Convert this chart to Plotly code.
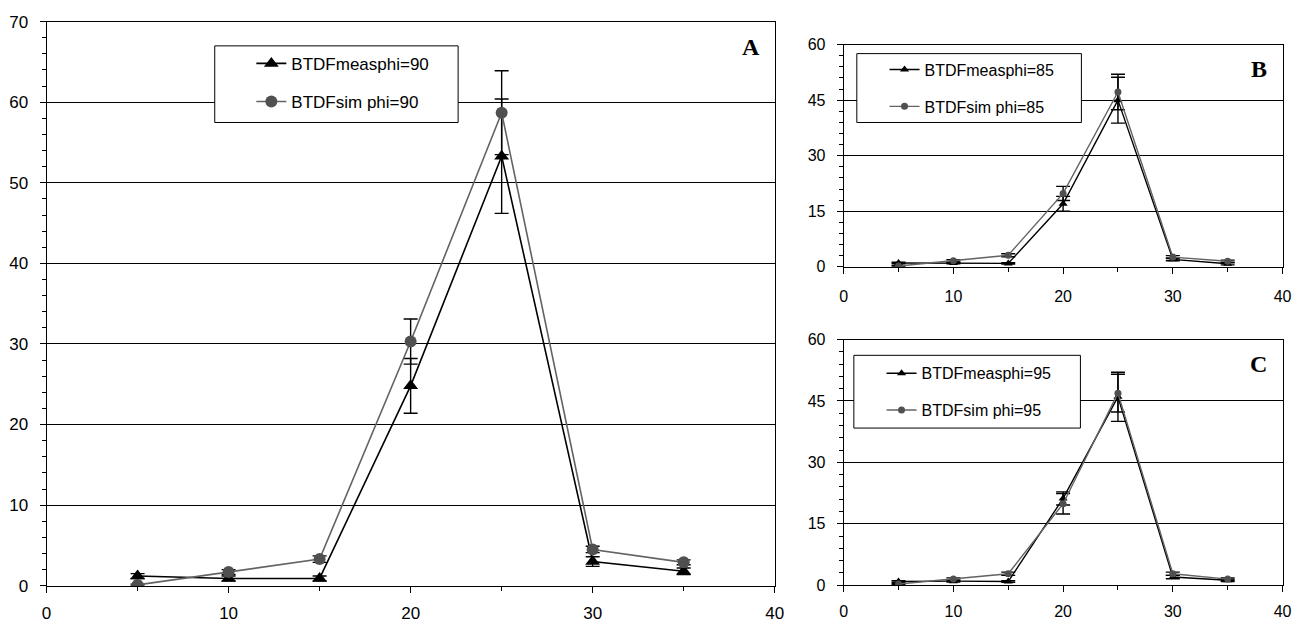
import plotly.graph_objects as go

# Incidence angle (deg) for all three panels
angles = [5, 10, 15, 20, 25, 30, 35]

# Panel A: phi = 90
meas_90 = [1.2, 0.9, 0.9, 24.8, 53.3, 3.0, 1.8]
meas_90_err = [0.3, 0.3, 0.3, 3.4, 7.1, 0.6, 0.4]
sim_90 = [0.1, 1.7, 3.3, 30.3, 58.7, 4.5, 2.9]
sim_90_err = [0.1, 0.3, 0.4, 2.8, 5.2, 0.4, 0.3]

# Panel B: phi = 85
meas_85 = [1.0, 1.0, 0.9, 17.0, 45.0, 2.0, 0.8]
meas_85_err = [0.2, 0.2, 0.2, 2.0, 6.2, 0.4, 0.3]
sim_85 = [0.2, 1.6, 3.1, 19.8, 47.2, 2.6, 1.5]
sim_85_err = [0.1, 0.3, 0.4, 1.9, 4.8, 0.4, 0.3]

# Panel C: phi = 95
meas_95 = [0.9, 1.0, 0.9, 21.2, 46.0, 2.0, 1.2]
meas_95_err = [0.2, 0.2, 0.2, 1.6, 6.0, 0.4, 0.3]
sim_95 = [0.3, 1.5, 2.8, 19.9, 46.9, 2.8, 1.5]
sim_95_err = [0.1, 0.3, 0.4, 2.5, 4.6, 0.4, 0.3]

W, H = 1313, 635
FONT = "Liberation Sans, Arial, sans-serif"
SERIF = "Liberation Serif, Times New Roman, serif"
SIM_LINE = "#636363"
SIM_MARK = "#505050"


def fx(px):
    return px / W


def fy(py):
    return 1 - py / H


fig = go.Figure()


def add_pair(meas, meas_err, sim, sim_err, phi, xa, ya, legend, big):
    tri = 13 if big else 8
    dot = 12 if big else 7
    lw = 1.6 if big else 1.4
    fig.add_trace(go.Scatter(
        x=angles, y=meas, mode="lines+markers",
        name=f"BTDFmeasphi={phi}",
        line=dict(color="black", width=lw),
        marker=dict(symbol="triangle-up", size=tri, color="black"),
        error_y=dict(type="data", array=meas_err, visible=True,
                     color="black", thickness=1.4, width=7),
        xaxis=xa, yaxis=ya, legend=legend, legendgroup=f"m{phi}",
    ))
    fig.add_trace(go.Scatter(
        x=angles, y=sim, mode="lines+markers",
        name=f"BTDFsim phi={phi}",
        line=dict(color=SIM_LINE, width=lw),
        marker=dict(symbol="circle", size=dot, color=SIM_MARK),
        error_y=dict(type="data", array=sim_err, visible=True,
                     color="black", thickness=1.4, width=7),
        xaxis=xa, yaxis=ya, legend=legend, legendgroup=f"s{phi}",
    ))


add_pair(meas_90, meas_90_err, sim_90, sim_90_err, 90, "x", "y", "legend", True)
add_pair(meas_85, meas_85_err, sim_85, sim_85_err, 85, "x2", "y2", "legend2", False)
add_pair(meas_95, meas_95_err, sim_95, sim_95_err, 95, "x3", "y3", "legend3", False)


def xaxis(domain, anchor, size, standoff):
    return dict(
        domain=domain, anchor=anchor, range=[0, 40], dtick=10,
        showgrid=False, zeroline=False,
        showline=True, linecolor="black", linewidth=1, mirror=True,
        ticks="outside", ticklen=6, tickcolor="black",
        minor=dict(dtick=5, ticks="outside", ticklen=4, tickcolor="black"),
        tickfont=dict(family=FONT, size=size, color="black"),
        ticklabelstandoff=standoff, fixedrange=True,
    )


def yaxis(domain, anchor, top, step, minor, size):
    return dict(
        domain=domain, anchor=anchor, range=[0, top], dtick=step,
        showgrid=True, gridcolor="black", gridwidth=1, zeroline=False,
        showline=True, linecolor="black", linewidth=1, mirror=True,
        ticks="outside", ticklen=6, tickcolor="black",
        minor=dict(dtick=minor, ticks="outside", ticklen=4, tickcolor="black"),
        tickfont=dict(family=FONT, size=size, color="black"),
        ticklabelstandoff=8, fixedrange=True,
    )


legend_common = dict(
    xanchor="left", yanchor="top", bgcolor="rgba(0,0,0,0)",
    borderwidth=0, itemclick=False, itemdoubleclick=False,
)

fig.update_layout(
    width=W, height=H, margin=dict(l=0, r=0, t=0, b=0),
    paper_bgcolor="white", plot_bgcolor="white",
    font=dict(family=FONT, color="black"),
    xaxis=xaxis([fx(42), fx(778)], "y", 17, 6),
    yaxis=yaxis([fy(594.5), fy(13)], "x", 70, 10, 2, 17),
    xaxis2=xaxis([fx(847.7), fx(1291.3)], "y2", 16, 9),
    yaxis2=yaxis([fy(265.7), fy(36.7)], "x2", 60, 15, 3, 16),
    xaxis3=xaxis([fx(847.7), fx(1291.3)], "y3", 16, 6),
    yaxis3=yaxis([fy(594), fy(340.7)], "x3", 60, 15, 3, 16),
    legend=dict(x=fx(249), y=fy(38), font=dict(family=FONT, size=17),
                tracegroupgap=13, **legend_common),
    legend2=dict(x=fx(889), y=fy(45), font=dict(family=FONT, size=16),
                 tracegroupgap=13, **legend_common),
    legend3=dict(x=fx(886), y=fy(358), font=dict(family=FONT, size=16),
                 tracegroupgap=13, **legend_common),
    shapes=[
        dict(type="rect", xref="paper", yref="paper",
             x0=fx(212), x1=fx(458), y0=fy(117), y1=fy(38),
             line=dict(color="black", width=1), fillcolor="white", layer="above"),
        dict(type="rect", xref="paper", yref="paper",
             x0=fx(861), x1=fx(1088), y0=fy(117), y1=fy(46),
             line=dict(color="black", width=1), fillcolor="white", layer="above"),
        dict(type="rect", xref="paper", yref="paper",
             x0=fx(858), x1=fx(1087), y0=fy(432), y1=fy(357),
             line=dict(color="black", width=1), fillcolor="white", layer="above"),
    ],
    annotations=[
        dict(text="<b>A</b>", x=fx(754), y=fy(39), xref="paper", yref="paper",
             xanchor="center", yanchor="middle", showarrow=False,
             font=dict(family=SERIF, size=24)),
        dict(text="<b>B</b>", x=fx(1268), y=fy(62), xref="paper", yref="paper",
             xanchor="center", yanchor="middle", showarrow=False,
             font=dict(family=SERIF, size=24)),
        dict(text="<b>C</b>", x=fx(1267), y=fy(366), xref="paper", yref="paper",
             xanchor="center", yanchor="middle", showarrow=False,
             font=dict(family=SERIF, size=24)),
    ],
)

fig.write_html("out.html", config=dict(displayModeBar=False))
